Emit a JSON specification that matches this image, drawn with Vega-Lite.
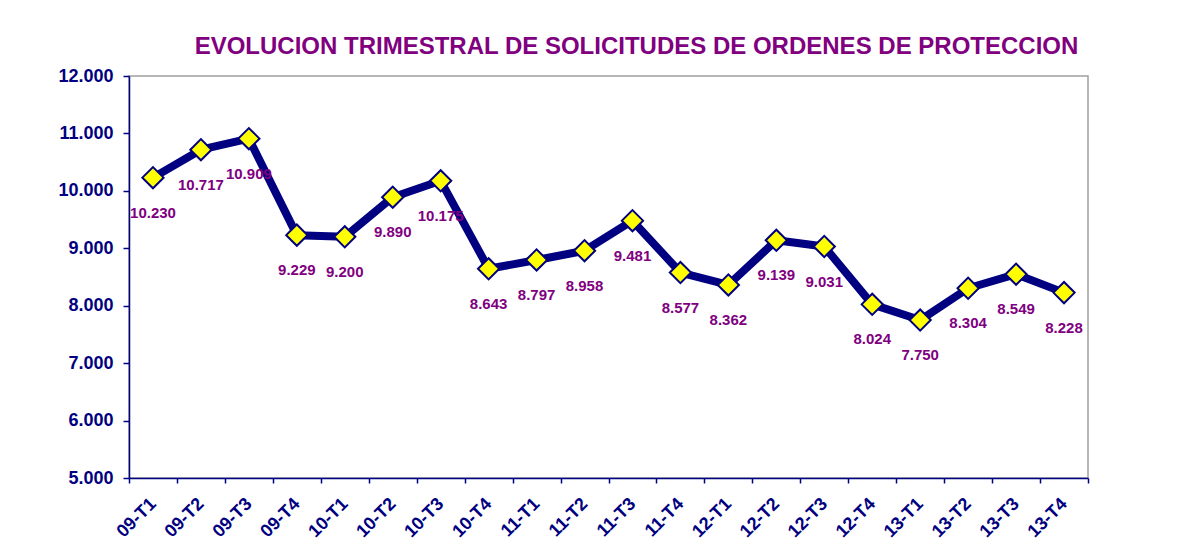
{
  "$schema": "https://vega.github.io/schema/vega-lite/v6.json",
  "autosize": "none",
  "width": 959,
  "height": 402,
  "padding": {"left": 129, "top": 76, "right": 94, "bottom": 80},
  "background": "white",
  "config": {
    "locale": {"number": {"decimal": ",", "thousands": ".", "grouping": [3], "currency": ["", " €"]}},
    "view": {"stroke": "#a0a0a0", "strokeWidth": 1.5},
    "font": "Liberation Sans"
  },
  "title": {
    "text": "EVOLUCION TRIMESTRAL DE SOLICITUDES DE ORDENES DE PROTECCION",
    "font": "Liberation Sans",
    "fontSize": 24,
    "fontWeight": "bold",
    "color": "#800080",
    "anchor": "middle",
    "dx": 28,
    "offset": -11,
    "baseline": "alphabetic"
  },
  "data": {
    "values": [
      {"trimestre": "09-T1", "solicitudes": 10230},
      {"trimestre": "09-T2", "solicitudes": 10717},
      {"trimestre": "09-T3", "solicitudes": 10909},
      {"trimestre": "09-T4", "solicitudes": 9229},
      {"trimestre": "10-T1", "solicitudes": 9200},
      {"trimestre": "10-T2", "solicitudes": 9890},
      {"trimestre": "10-T3", "solicitudes": 10175},
      {"trimestre": "10-T4", "solicitudes": 8643},
      {"trimestre": "11-T1", "solicitudes": 8797},
      {"trimestre": "11-T2", "solicitudes": 8958},
      {"trimestre": "11-T3", "solicitudes": 9481},
      {"trimestre": "11-T4", "solicitudes": 8577},
      {"trimestre": "12-T1", "solicitudes": 8362},
      {"trimestre": "12-T2", "solicitudes": 9139},
      {"trimestre": "12-T3", "solicitudes": 9031},
      {"trimestre": "12-T4", "solicitudes": 8024},
      {"trimestre": "13-T1", "solicitudes": 7750},
      {"trimestre": "13-T2", "solicitudes": 8304},
      {"trimestre": "13-T3", "solicitudes": 8549},
      {"trimestre": "13-T4", "solicitudes": 8228}
    ]
  },
  "encoding": {
    "x": {
      "field": "trimestre",
      "type": "ordinal",
      "sort": null,
      "scale": {"type": "band", "paddingInner": 0, "paddingOuter": 0},
      "axis": {
        "title": null,
        "tickBand": "extent",
        "labelAngle": -45,
        "labelAlign": "right",
        "labelBaseline": "middle",
        "labelPadding": 18,
        "labelFont": "Liberation Sans",
        "labelFontSize": 18,
        "labelFontWeight": "bold",
        "labelColor": "#000080",
        "domainColor": "#000080",
        "domainWidth": 1.5,
        "tickColor": "#000080",
        "tickWidth": 1.5,
        "tickSize": 5,
        "grid": false
      }
    },
    "y": {
      "field": "solicitudes",
      "type": "quantitative",
      "scale": {"domain": [5000, 12000], "nice": false, "zero": false},
      "axis": {
        "title": null,
        "values": [5000, 6000, 7000, 8000, 9000, 10000, 11000, 12000],
        "format": ",d",
        "labelFont": "Liberation Sans",
        "labelFontSize": 18,
        "labelFontWeight": "bold",
        "labelColor": "#000080",
        "labelPadding": 10,
        "domainColor": "#000080",
        "domainWidth": 1.5,
        "tickColor": "#000080",
        "tickWidth": 1.5,
        "tickSize": 6,
        "grid": false
      }
    }
  },
  "layer": [
    {
      "mark": {"type": "line", "color": "#000080", "strokeWidth": 8, "strokeJoin": "round"}
    },
    {
      "mark": {"type": "point", "shape": "diamond", "filled": true, "fill": "#ffff00", "stroke": "#000080", "strokeWidth": 2, "size": 450, "opacity": 1}
    },
    {
      "mark": {"type": "text", "dy": 35, "baseline": "middle", "align": "center", "font": "Liberation Sans", "fontSize": 15, "fontWeight": "bold", "color": "#800080"},
      "encoding": {
        "text": {"field": "solicitudes", "type": "quantitative", "format": ",d"}
      }
    }
  ]
}
